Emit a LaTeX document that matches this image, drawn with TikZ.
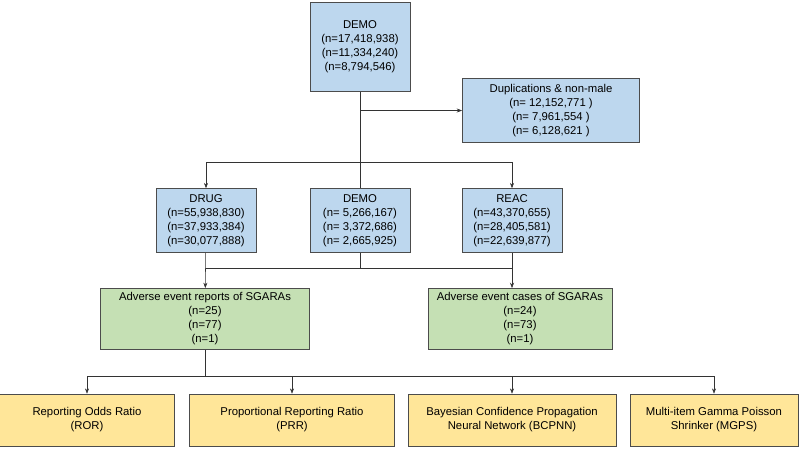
\documentclass[tikz,border=0pt]{standalone}
\usepackage{fontspec}
\setmainfont{Liberation Sans}
\usetikzlibrary{arrows.meta, positioning}
\definecolor{BoxBlue}{RGB}{189,215,238}
\definecolor{BoxGreen}{RGB}{197,224,180}
\definecolor{BoxYellow}{RGB}{255,230,153}

\begin{document}
\begin{tikzpicture}[
          x=0.75pt, y=-0.75pt,
          base/.style={rectangle, draw=black!70, align=center, inner sep=1pt, font=\fontsize{8.5}{10.5}\selectfont},
          blue/.style={base, fill=BoxBlue, minimum width=75pt, minimum height=48pt},
          green/.style={base, fill=BoxGreen, minimum height=46pt},
          yellow/.style={base, fill=BoxYellow, minimum height=39pt},
          arrow/.style={-{Stealth[length=4pt]}, black!80},
          link/.style={black!80}
        ]
          \useasboundingbox (0,0) rectangle (800,462);

          \node (demo) [blue, minimum height=67pt] at (360,47) {DEMO\\(n=17,418,938)\\(n=11,334,240)\\(n=8,794,546)};
          \node (dup) [blue, minimum width=133pt] at (551,110.5) {Duplications \& non-male\\(n= 12,152,771 )\\(n= 7,961,554 )\\(n= 6,128,621 )};
          \node (drug) [blue] at (206,220.5) {DRUG\\(n=55,938,830)\\(n=37,933,384)\\(n=30,077,888)};
          \node (demob) [blue] at (360,220.5) {DEMO\\(n= 5,266,167)\\(n= 3,372,686)\\(n= 2,665,925)};
          \node (reac) [blue] at (512,220.5) {REAC\\(n=43,370,655)\\(n=28,405,581)\\(n=22,639,877)};
          \node (reports) [green, minimum width=157pt] at (205,319) {Adverse event reports of SGARAs\\(n=25)\\(n=77)\\(n=1)};
          \node (cases) [green, minimum width=138pt] at (520,319) {Adverse event cases of SGARAs\\(n=24)\\(n=73)\\(n=1)};
          \node (ror) [yellow, minimum width=131pt] at (87,420) {Reporting Odds Ratio\\(ROR)};
          \node (prr) [yellow, minimum width=154pt] at (292,420) {Proportional Reporting Ratio\\(PRR)};
          \node (bcpnn) [yellow, minimum width=156pt] at (512,420) {Bayesian Confidence Propagation\\Neural Network (BCPNN)};
          \node (mgps) [yellow, minimum width=126pt] at (714,420) {Multi-item Gamma Poisson\\Shrinker (MGPS)};

          \coordinate (split) at (360,162);
          \coordinate (merge) at (360,268);
          \coordinate (fan) at (205,376);

          \draw [link] (demo) -- (demob);
          \draw [arrow] (360,110.5) -- (dup);
          \draw [arrow] (split) -| (drug);
          \draw [arrow] (split) -| (reac);
          \draw [arrow] (drug) -- (reports);
          \draw [arrow] (reac) -- (reac |- cases.north);
          \draw [link] (demob) -- (merge);
          \draw [link] (206,268) -- (512,268);
          \draw [link] (reports) -- (fan);
          \draw [arrow] (fan) -| (ror);
          \draw [arrow] (fan) -| (prr);
          \draw [arrow] (fan) -| (bcpnn);
          \draw [arrow] (fan) -| (mgps);
        \end{tikzpicture}
\end{document}
